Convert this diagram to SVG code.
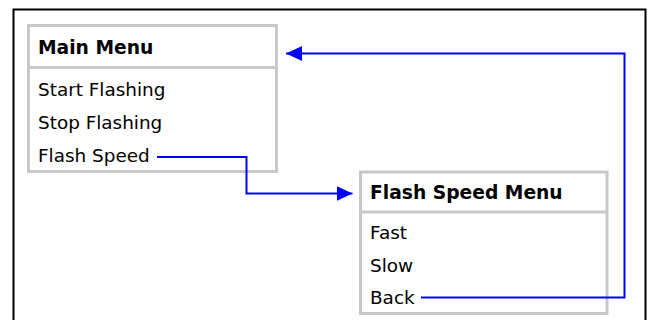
<svg xmlns="http://www.w3.org/2000/svg" width="650" height="320" viewBox="0 0 650 320">
  <style>
    .frame { fill: #ffffff; stroke: #000000; stroke-width: 2; }
    .box { fill: #ffffff; stroke: #c8c8c8; stroke-width: 3; }
    .sep { stroke: #c8c8c8; stroke-width: 3; }
    .title { font-family: "DejaVu Sans", Verdana, sans-serif; font-size: 18.7px; font-weight: bold; fill: #000000; }
    .item { font-family: "DejaVu Sans", Verdana, sans-serif; font-size: 18.4px; fill: #000000; }
    .conn { fill: none; stroke: #0000ff; stroke-width: 2; }
  </style>
  <defs>
    <marker id="arrow" markerUnits="userSpaceOnUse" markerWidth="16" markerHeight="15" refX="16" refY="7.5" orient="auto">
      <path d="M0,0 L16,7.5 L0,15 z" fill="#0000ff"/>
    </marker>
  </defs>
  <rect class="frame" x="13.5" y="9.5" width="632" height="340"/>
  <g id="main-menu">
    <rect class="box" x="28.5" y="25.5" width="248" height="146"/>
    <line class="sep" x1="28.5" y1="67.5" x2="276.5" y2="67.5"/>
    <text class="title" x="38" y="53.5">Main Menu</text>
    <text class="item" x="38" y="95.5">Start Flashing</text>
    <text class="item" x="38" y="128.5">Stop Flashing</text>
    <text class="item" x="38" y="161.5">Flash Speed</text>
  </g>
  <g id="flash-speed-menu">
    <rect class="box" x="360.5" y="172" width="246.5" height="141.5"/>
    <line class="sep" x1="360.5" y1="212" x2="607" y2="212"/>
    <text class="title" x="370" y="198.5">Flash Speed Menu</text>
    <text class="item" x="370" y="238.5">Fast</text>
    <text class="item" x="370" y="271.5">Slow</text>
    <text class="item" x="370" y="304">Back</text>
  </g>
  <g id="connectors">
    <path class="conn" d="M157,157 H246.5 V193.5 H352.5" marker-end="url(#arrow)"/>
    <path class="conn" d="M421,297.5 H624.5 V53.5 H286" marker-end="url(#arrow)"/>
  </g>
</svg>
